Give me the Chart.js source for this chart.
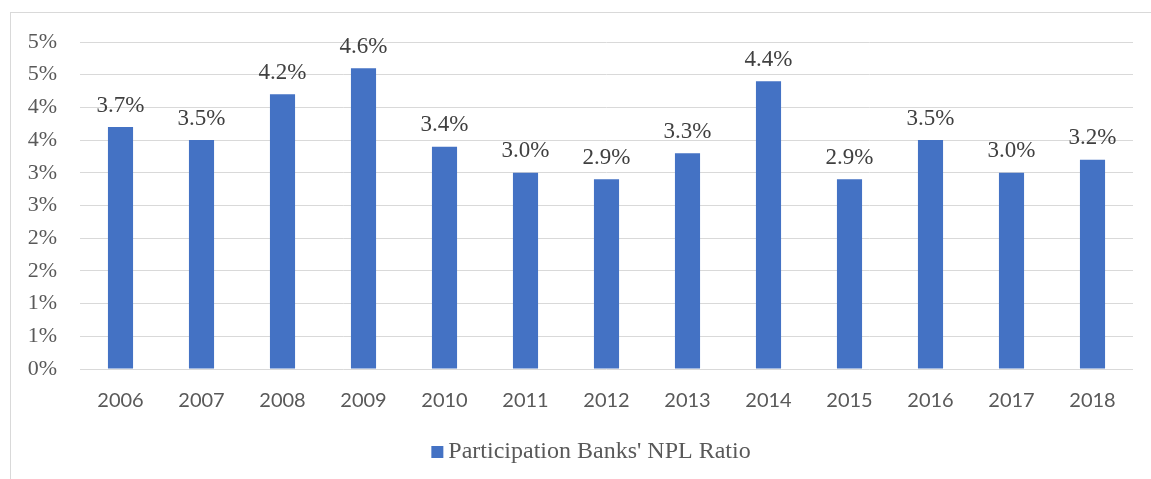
<!DOCTYPE html>
<html>
<head>
<meta charset="utf-8">
<script src="https://cdn.jsdelivr.net/npm/chart.js@4"></script>
<style>
  html, body { margin: 0; padding: 0; background: #fff; }
  #wrap { position: relative; width: 1151px; height: 479px; }
</style>
</head>
<body>
<div id="wrap">
  <canvas id="nplChart" width="1151" height="479"></canvas>
</div>
<script>
// NPL ratio of participation banks, by year (%)
const years = ['2006', '2007', '2008', '2009', '2010', '2011', '2012', '2013', '2014', '2015', '2016', '2017', '2018'];
const nplRatio = [3.7, 3.5, 4.2, 4.6, 3.4, 3.0, 2.9, 3.3, 4.4, 2.9, 3.5, 3.0, 3.2];
const seriesName = "Participation Banks' NPL Ratio";
const barColor = '#4472c4';

const serif = "'Liberation Serif', 'Times New Roman', serif";
const sans = "Lato, 'Liberation Sans', sans-serif";

// light frame around the whole chart
const frame = {
  id: 'frame',
  beforeDraw(chart) {
    const ctx = chart.ctx;
    ctx.save();
    ctx.strokeStyle = '#d9d9d9';
    ctx.lineWidth = 1;
    ctx.strokeRect(10.5, 12.5, 1300, 600);
    ctx.restore();
  }
};

// value labels above each bar
const barLabels = {
  id: 'barLabels',
  afterDatasetsDraw(chart) {
    const ctx = chart.ctx;
    const meta = chart.getDatasetMeta(0);
    ctx.save();
    ctx.font = '23px ' + serif;
    ctx.fillStyle = '#404040';
    ctx.textAlign = 'center';
    ctx.textBaseline = 'bottom';
    meta.data.forEach((bar, i) => {
      ctx.fillText(nplRatio[i].toFixed(1) + '%', bar.x, bar.y - 10);
    });
    ctx.restore();
  }
};

// single-entry legend under the axis, centred on the frame
const bottomLegend = {
  id: 'bottomLegend',
  afterDraw(chart) {
    const ctx = chart.ctx;
    ctx.save();
    ctx.font = '24px ' + serif;
    const textW = ctx.measureText(seriesName).width;
    const box = 12, gap = 5;
    const x0 = 591 - (box + gap + textW) / 2;
    const cy = 452;
    ctx.fillStyle = barColor;
    ctx.fillRect(x0, cy - box / 2, box, box);
    ctx.fillStyle = '#595959';
    ctx.textBaseline = 'middle';
    ctx.fillText(seriesName, x0 + box + gap, cy);
    ctx.restore();
  }
};

new Chart(document.getElementById('nplChart'), {
  type: 'bar',
  data: {
    labels: years,
    datasets: [{
      label: seriesName,
      data: nplRatio,
      backgroundColor: barColor,
      barPercentage: 0.31,
      categoryPercentage: 1
    }]
  },
  options: {
    responsive: false,
    animation: false,
    layout: { padding: { top: 42, right: 18, bottom: 49, left: 0 } },
    scales: {
      x: {
        grid: { display: false },
        border: { display: false },
        ticks: { color: '#595959', font: { family: sans, size: 20 }, padding: 12 },
        afterFit(scale) { scale.height = 61; }
      },
      y: {
        min: 0,
        max: 5,
        grid: { color: '#d9d9d9', lineWidth: 1, drawTicks: false },
        border: { display: false },
        ticks: {
          stepSize: 0.5,
          color: '#595959',
          font: { family: serif, size: 22 },
          padding: 23,
          callback: v => Math.round(v) + '%'
        },
        afterFit(scale) { scale.width = 80; }
      }
    },
    plugins: {
      legend: { display: false },
      tooltip: { enabled: false }
    }
  },
  plugins: [frame, barLabels, bottomLegend]
});
</script>
</body>
</html>
